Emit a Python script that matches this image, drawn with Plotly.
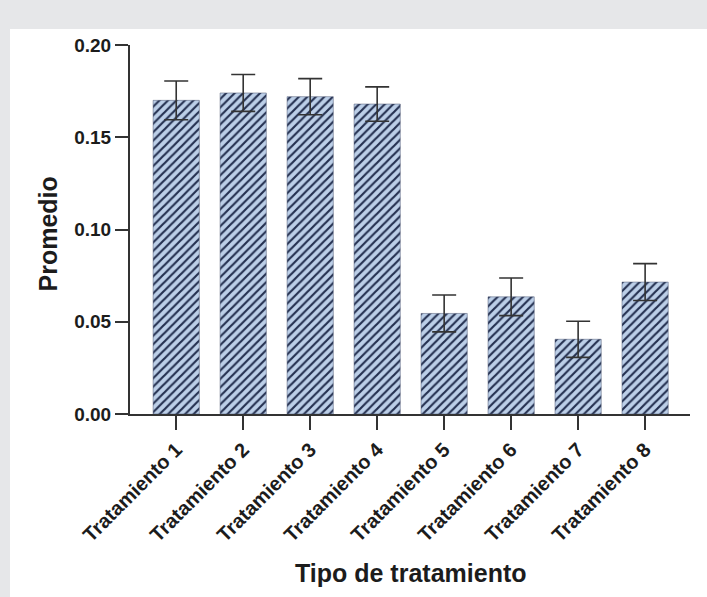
import plotly.graph_objects as go

categories = ["Tratamiento 1", "Tratamiento 2", "Tratamiento 3", "Tratamiento 4",
              "Tratamiento 5", "Tratamiento 6", "Tratamiento 7", "Tratamiento 8"]
means = [0.170, 0.174, 0.172, 0.168, 0.0545, 0.0635, 0.0405, 0.0715]
errors = [0.0105, 0.0100, 0.0098, 0.0093, 0.0100, 0.0102, 0.0098, 0.0100]
y_ticks = [0.00, 0.05, 0.10, 0.15, 0.20]
y_tick_labels = ["0.00", "0.05", "0.10", "0.15", "0.20"]

FONT = "Liberation Sans, Arial, sans-serif"
TXT = "#1c1c1c"
AX = "#333333"

fig = go.Figure()
fig.add_trace(go.Bar(
    x=categories, y=means, width=0.69,
    marker=dict(
        color="#b9cce6",
        line=dict(color="#4a5570", width=0.5),
        pattern=dict(shape="/", fgcolor="#243050", bgcolor="#bccfe8",
                     size=6, solidity=0.36, fgopacity=1),
    ),
    error_y=dict(type="data", array=errors, visible=True,
                 color=AX, thickness=1.6, width=12),
))

fig.update_layout(
    width=707, height=597,
    margin=dict(l=130, r=17, t=45, b=183),
    paper_bgcolor="#ffffff",
    plot_bgcolor="rgba(0,0,0,0)",
    showlegend=False,
    font=dict(family=FONT, color=TXT),
    xaxis=dict(
        type="category", range=[-0.69, 7.67],
        showline=True, linecolor=AX, linewidth=2,
        ticks="outside", ticklen=14, tickwidth=2, tickcolor=AX,
        tickangle=-45,
        tickfont=dict(family=FONT, size=20, color=TXT, weight="bold"),
        showgrid=False, zeroline=False, fixedrange=True,
    ),
    yaxis=dict(
        range=[0, 0.2],
        tickvals=y_ticks, ticktext=y_tick_labels,
        showline=True, linecolor=AX, linewidth=2,
        ticks="outside", ticklen=13, tickwidth=2, tickcolor=AX,
        tickfont=dict(family=FONT, size=19, color=TXT, weight="bold"),
        showgrid=False, zeroline=False, fixedrange=True,
    ),
    shapes=[
        dict(type="rect", xref="paper", yref="paper",
             x0=-130/560, x1=577/560, y0=(414-29)/369, y1=414/369,
             fillcolor="#e6e7e9", line=dict(width=0), layer="below"),
        dict(type="rect", xref="paper", yref="paper",
             x0=-130/560, x1=-120/560, y0=-183/369, y1=(414-29)/369,
             fillcolor="#e6e7e9", line=dict(width=0), layer="below"),
    ],
    annotations=[
        dict(text="Promedio", xref="paper", yref="paper",
             x=(47.5-130)/560, y=(414-234)/369, xanchor="center", yanchor="middle",
             textangle=-90, showarrow=False,
             font=dict(family=FONT, size=25, color=TXT, weight="bold")),
        dict(text="Tipo de tratamiento", xref="paper", yref="paper",
             x=(411-130)/560, y=(414-573)/369, xanchor="center", yanchor="middle",
             showarrow=False,
             font=dict(family=FONT, size=25, color=TXT, weight="bold")),
    ],
)

fig.write_html("out.html",
               config={"displayModeBar": False, "staticPlot": True},
               post_script="document.body.style.margin='0';document.body.style.overflow='hidden';")
